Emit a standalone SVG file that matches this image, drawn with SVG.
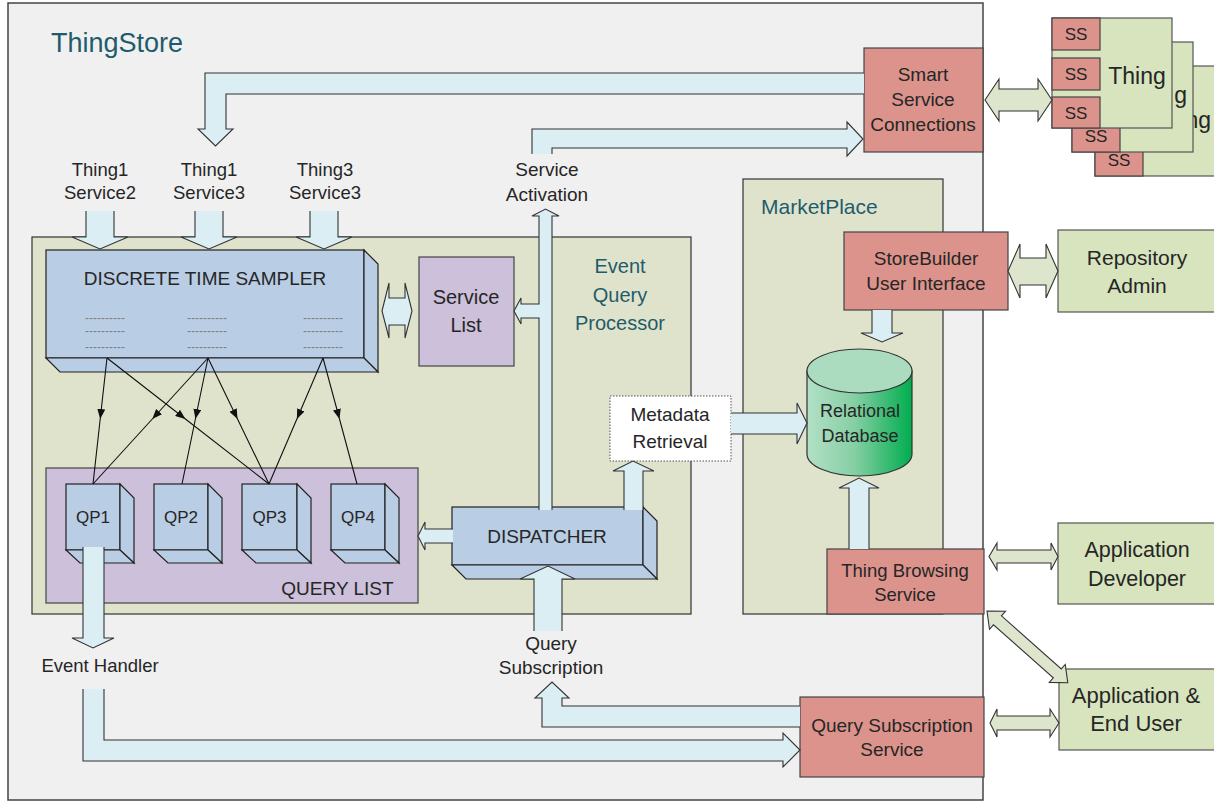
<svg xmlns="http://www.w3.org/2000/svg" width="1214" height="804" viewBox="0 0 1214 804">
  <style>
    text { font-family: "Liberation Sans", Arial, sans-serif; fill: #262626; }
    .teal { fill: #1f5c6b; }
    .mid { text-anchor: middle; }
    .end { text-anchor: end; }
    .frame { fill: #f0f0f0; stroke: #444; stroke-width: 1.5; }
    .olive { fill: #dfe3cc; stroke: #333; stroke-width: 1.2; }
    .red { fill: #dc938c; stroke: #444; stroke-width: 1.2; }
    .green { fill: #d7e4bd; stroke: #555; stroke-width: 1.2; }
    .blue { fill: #b9cde4; stroke: #222; stroke-width: 1.2; }
    .purple { fill: #ccc0da; stroke: #444; stroke-width: 1.2; }
    .arrow { fill: #daeef3; stroke: #333; stroke-width: 1.1; }
    .garrow { fill: #dde5cd; stroke: #333; stroke-width: 1.1; }
    .thin { fill: none; stroke: #111; stroke-width: 1.1; marker-mid: url(#tri); }
    .dash { fill: #808080; font-size: 12px; }
  </style>
  <defs>
    <marker id="tri" viewBox="0 0 10 8" refX="10" refY="4" markerWidth="10" markerHeight="8" markerUnits="userSpaceOnUse" orient="auto">
      <path d="M0,0 L10,4 L0,8 Z" fill="#111"/>
    </marker>
    <linearGradient id="dbFill" x1="0" y1="0" x2="1" y2="0">
      <stop offset="0" stop-color="#b2e0c6"/>
      <stop offset="0.45" stop-color="#86cfa4"/>
      <stop offset="1" stop-color="#00ad4e"/>
    </linearGradient>
  </defs>

  <!-- ThingStore frame -->
  <g id="thingstore">
    <rect class="frame" x="8" y="3" width="975" height="797"/>
    <text class="teal" x="51" y="52" font-size="27">ThingStore</text>
  </g>

  <!-- containers -->
  <g id="event-query-processor">
    <rect class="olive" x="32" y="237" width="659" height="377"/>
    <text class="teal mid" x="620" y="273" font-size="20">Event</text>
    <text class="teal mid" x="620" y="302" font-size="20">Query</text>
    <text class="teal mid" x="620" y="330" font-size="20">Processor</text>
  </g>
  <g id="marketplace">
    <rect class="olive" x="743" y="179" width="200" height="435"/>
    <text class="teal" x="761" y="214" font-size="21">MarketPlace</text>
  </g>

  <!-- things with their smart services (stacked, rear ones mostly hidden) -->
  <g id="thing-3">
    <rect class="green" x="1095" y="66" width="130" height="110"/>
    <text class="end" x="1211" y="128" font-size="23">ng</text>
    <rect class="red" x="1095" y="144" width="48" height="32"/>
    <text class="mid" x="1119" y="166" font-size="17">SS</text>
  </g>
  <g id="thing-2">
    <rect class="green" x="1072" y="42" width="121" height="110"/>
    <text class="end" x="1187" y="103" font-size="23">g</text>
    <rect class="red" x="1072" y="120" width="48" height="32"/>
    <text class="mid" x="1096" y="142" font-size="17">SS</text>
  </g>
  <g id="thing-1">
    <rect class="green" x="1052" y="18" width="120" height="110"/>
    <text class="mid" x="1137" y="84" font-size="23">Thing</text>
    <rect class="red" x="1052" y="18" width="48" height="32"/>
    <text class="mid" x="1076" y="40" font-size="17">SS</text>
    <rect class="red" x="1052" y="58" width="48" height="32"/>
    <text class="mid" x="1076" y="80" font-size="17">SS</text>
    <rect class="red" x="1052" y="97" width="48" height="31"/>
    <text class="mid" x="1076" y="119" font-size="17">SS</text>
  </g>

  <g id="smart-service-connections">
    <rect class="red" x="864" y="48" width="119" height="104"/>
    <text class="mid" x="923" y="81" font-size="19">Smart</text>
    <text class="mid" x="923" y="106" font-size="19">Service</text>
    <text class="mid" x="923" y="131" font-size="19">Connections</text>
  </g>

  <g id="stream-labels">
    <text class="mid" x="100" y="176" font-size="18.5">Thing1</text>
    <text class="mid" x="100" y="199" font-size="18.5">Service2</text>
    <text class="mid" x="209" y="176" font-size="18.5">Thing1</text>
    <text class="mid" x="209" y="199" font-size="18.5">Service3</text>
    <text class="mid" x="325" y="176" font-size="18.5">Thing3</text>
    <text class="mid" x="325" y="199" font-size="18.5">Service3</text>
  </g>
  <g id="service-activation">
    <text class="mid" x="547" y="175.5" font-size="19">Service</text>
    <text class="mid" x="547" y="200.5" font-size="19">Activation</text>
  </g>

  <g id="discrete-time-sampler">
    <rect class="blue" x="46" y="250" width="318" height="108"/>
    <polygon class="blue" points="364,250 378,264 378,372 364,358"/>
    <polygon class="blue" points="46,358 60,372 378,372 364,358"/>
    <text class="mid" x="205" y="285" font-size="19">DISCRETE TIME SAMPLER</text>
    <text class="dash" x="85" y="322">----------</text>
    <text class="dash" x="85" y="335">----------</text>
    <text class="dash" x="85" y="351">----------</text>
    <text class="dash" x="187" y="322">----------</text>
    <text class="dash" x="187" y="335">----------</text>
    <text class="dash" x="187" y="351">----------</text>
    <text class="dash" x="303" y="322">----------</text>
    <text class="dash" x="303" y="335">----------</text>
    <text class="dash" x="303" y="351">----------</text>
  </g>

  <g id="service-list">
    <rect class="purple" x="419" y="257" width="95" height="109"/>
    <text class="mid" x="466" y="304" font-size="20">Service</text>
    <text class="mid" x="466" y="332" font-size="20">List</text>
  </g>

  <g id="query-list">
    <rect class="purple" x="46" y="468" width="372" height="135"/>
    <text class="mid" x="337.5" y="595" font-size="19">QUERY LIST</text>
  </g>
  <g id="qp1">
    <rect class="blue" x="66" y="484" width="54" height="66"/>
    <polygon class="blue" points="120,484 134,498 134,563 120,550"/>
    <polygon class="blue" points="66,550 80,563 134,563 120,550"/>
    <text class="mid" x="93" y="523" font-size="17">QP1</text>
  </g>
  <g id="qp2">
    <rect class="blue" x="154" y="484" width="54" height="66"/>
    <polygon class="blue" points="208,484 222,498 222,563 208,550"/>
    <polygon class="blue" points="154,550 168,563 222,563 208,550"/>
    <text class="mid" x="181" y="523" font-size="17">QP2</text>
  </g>
  <g id="qp3">
    <rect class="blue" x="242" y="484" width="55" height="66"/>
    <polygon class="blue" points="297,484 311,498 311,563 297,550"/>
    <polygon class="blue" points="242,550 256,563 311,563 297,550"/>
    <text class="mid" x="269.5" y="523" font-size="17">QP3</text>
  </g>
  <g id="qp4">
    <rect class="blue" x="331" y="484" width="54" height="66"/>
    <polygon class="blue" points="385,484 399,498 399,563 385,550"/>
    <polygon class="blue" points="331,550 345,563 399,563 385,550"/>
    <text class="mid" x="358" y="523" font-size="17">QP4</text>
  </g>

  <g id="dispatcher">
    <rect class="blue" x="452" y="507" width="191" height="58"/>
    <polygon class="blue" points="643,507 657,521 657,579 643,565"/>
    <polygon class="blue" points="452,565 466,579 657,579 643,565"/>
    <text class="mid" x="547" y="543" font-size="19">DISPATCHER</text>
  </g>

  <g id="metadata-retrieval">
    <rect x="610" y="396" width="121" height="65" fill="#ffffff" stroke="#555" stroke-width="1" stroke-dasharray="1.5,1.5"/>
    <text class="mid" x="670" y="421" font-size="19">Metadata</text>
    <text class="mid" x="670" y="448" font-size="19">Retrieval</text>
  </g>

  <g id="relational-database">
    <path d="M807,371 L807,454 A52.5,22 0 0 0 912,454 L912,371 Z" fill="url(#dbFill)" stroke="#333" stroke-width="1.2"/>
    <ellipse cx="859.5" cy="371" rx="52.5" ry="22" fill="#acdcbf" stroke="#333" stroke-width="1.2"/>
    <text class="mid" x="860" y="417" font-size="18">Relational</text>
    <text class="mid" x="860" y="442" font-size="18">Database</text>
  </g>

  <g id="storebuilder-ui">
    <rect class="red" x="844" y="232" width="164" height="78"/>
    <text class="mid" x="926" y="265" font-size="19">StoreBuilder</text>
    <text class="mid" x="926" y="290" font-size="19">User Interface</text>
  </g>
  <g id="repository-admin">
    <rect class="green" x="1058" y="230" width="170" height="82"/>
    <text class="mid" x="1137" y="264.5" font-size="21">Repository</text>
    <text class="mid" x="1137" y="292.5" font-size="21">Admin</text>
  </g>
  <g id="thing-browsing-service">
    <rect class="red" x="827" y="549" width="157" height="65"/>
    <text class="mid" x="905" y="576.5" font-size="18.5">Thing Browsing</text>
    <text class="mid" x="905" y="600.5" font-size="18.5">Service</text>
  </g>
  <g id="application-developer">
    <rect class="green" x="1058" y="523" width="170" height="81"/>
    <text class="mid" x="1137" y="556.5" font-size="21.5">Application</text>
    <text class="mid" x="1137" y="585.5" font-size="21.5">Developer</text>
  </g>
  <g id="application-end-user">
    <rect class="green" x="1059" y="669" width="170" height="81"/>
    <text class="mid" x="1136" y="702.5" font-size="22">Application &amp;</text>
    <text class="mid" x="1136" y="730.5" font-size="22">End User</text>
  </g>
  <g id="event-handler">
    <text class="mid" x="100" y="672" font-size="18.5">Event Handler</text>
  </g>
  <g id="query-subscription">
    <text class="mid" x="551" y="649.5" font-size="19">Query</text>
    <text class="mid" x="551" y="673.5" font-size="19">Subscription</text>
  </g>
  <g id="query-subscription-service">
    <rect class="red" x="800" y="697" width="184" height="80"/>
    <text class="mid" x="892" y="731.5" font-size="19">Query Subscription</text>
    <text class="mid" x="892" y="755.5" font-size="19">Service</text>
  </g>

  <!-- connectors -->
  <g id="connectors">
    <!-- smart service connections feeding the sampler -->
    <path class="arrow" d="M864,73 L205,73 L205,129 L198,129 L215.5,146 L233,129 L226,129 L226,94 L864,94"/>
    <!-- service activation up to smart service connections -->
    <path class="arrow" d="M532,154 L532,129 L847,129 L847,122 L863,139 L847,156 L847,148 L552,148 L552,154"/>
    <!-- dispatcher up to service activation, with branch to service list -->
    <path class="arrow" d="M539,510 L539,318 L521,318 L521,324 L514,311 L521,298 L521,304 L539,304 L539,216 L532,216 L545.5,209 L559,216 L552,216 L552,510"/>
    <!-- service streams into the sampler -->
    <path class="arrow" d="M86,211 L86,237 L72,237 L100,249 L128,237 L114,237 L114,211"/>
    <path class="arrow" d="M195,211 L195,237 L181,237 L209,249 L237,237 L223,237 L223,211"/>
    <path class="arrow" d="M310,211 L310,237 L296,237 L324,249 L352,237 L338,237 L338,211"/>
    <!-- sampler to service list -->
    <polygon class="arrow" points="382,311 389,283 389,298 405,298 405,283 412,311 405,338 405,325 389,325 389,338"/>
    <!-- sampler outputs to query processors -->
    <path class="thin" d="M107,358 L100.2,419 L93,484"/>
    <path class="thin" d="M107,358 L185.4,419 L269,484"/>
    <path class="thin" d="M208,358 L152.3,419 L93,484"/>
    <path class="thin" d="M208,358 L195.4,419 L182,484"/>
    <path class="thin" d="M208,358 L237.5,419 L269,484"/>
    <path class="thin" d="M323,358 L296.9,419 L269,484"/>
    <path class="thin" d="M323,358 L339.5,419 L357,484"/>
    <!-- dispatcher to query list -->
    <path class="arrow" d="M453,529 L425,529 L425,522 L418,536 L425,550 L425,543 L453,543"/>
    <!-- query subscription into dispatcher -->
    <path class="arrow" d="M534,631 L534,579 L520,579 L548,566 L575,579 L562,579 L562,631"/>
    <!-- dispatcher to metadata retrieval -->
    <path class="arrow" d="M624,510 L624,471 L613,471 L633,461 L654,471 L643,471 L643,510"/>
    <!-- metadata retrieval to database -->
    <path class="arrow" d="M731,413 L797,413 L797,403 L807,423 L797,444 L797,434 L731,434"/>
    <!-- storebuilder to database -->
    <path class="arrow" d="M872,310 L872,333 L861,333 L882,342 L903,333 L892,333 L892,310"/>
    <!-- thing browsing to database -->
    <path class="arrow" d="M849,549 L849,488 L839,488 L859,478 L879,488 L869,488 L869,549"/>
    <!-- QP1 to event handler -->
    <path class="arrow" d="M83,547 L83,638 L72,638 L93,648 L114,638 L104,638 L104,547"/>
    <!-- event handler to query subscription service -->
    <path class="arrow" d="M83,689 L83,761 L783,761 L783,767 L800,750 L783,733 L783,740 L104,740 L104,689"/>
    <!-- query subscription service to query subscription -->
    <path class="arrow" d="M800,706 L562,706 L562,698 L569,698 L552,682 L535,698 L542,698 L542,727 L800,727"/>
    <!-- external two-way links -->
    <polygon class="garrow" points="985,100 999,79 999,89 1038,89 1038,79 1052,100 1038,121 1038,111 999,111 999,121"/>
    <polygon class="garrow" points="1008,271 1020,244 1020,258 1046,258 1046,244 1058,271 1046,298 1046,285 1020,285 1020,298"/>
    <polygon class="garrow" points="989,556.5 997,543 997,550 1051,550 1051,543 1058,556.5 1051,570 1051,563 997,563 997,570"/>
    <polygon class="garrow" points="990,723 997,709 997,716 1050,716 1050,709 1059,723 1050,737 1050,730 997,730 997,737"/>
    <polygon class="garrow" transform="translate(987,611) rotate(41.6)" points="0,0 14,-12 14,-6 94,-6 94,-12 108,0 94,12 94,6 14,6 14,12"/>
  </g>
</svg>
